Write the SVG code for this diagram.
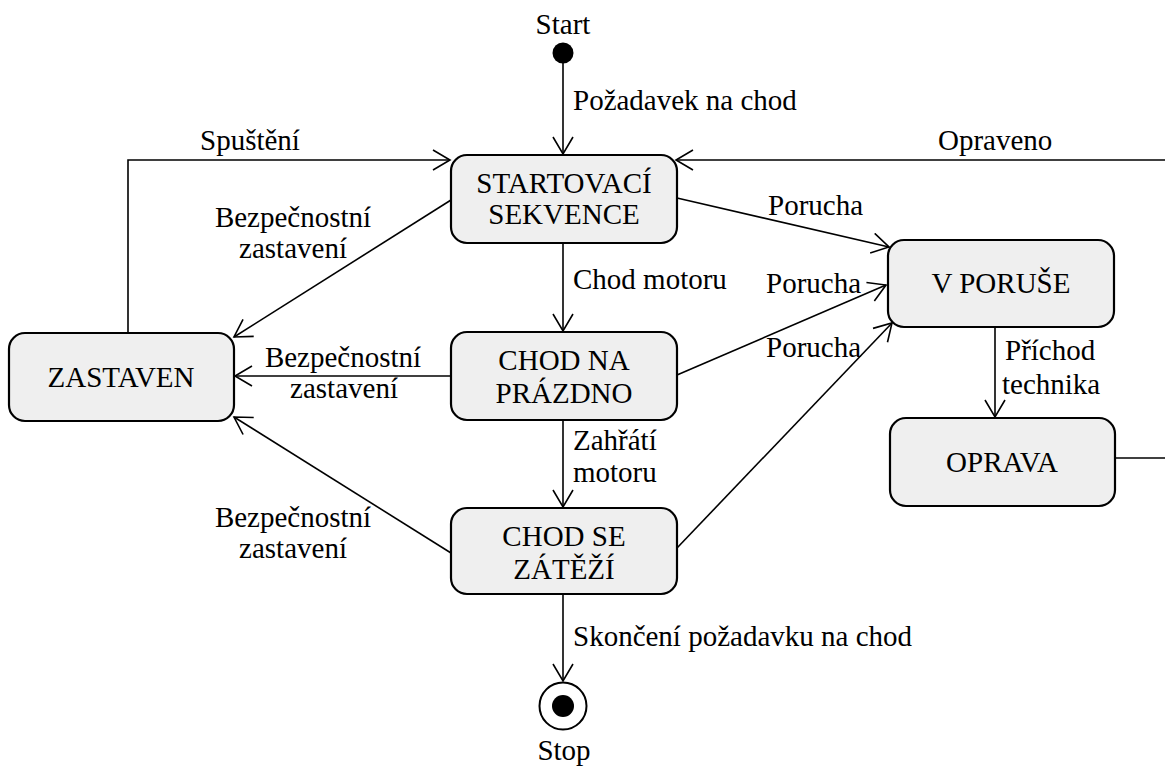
<svg xmlns="http://www.w3.org/2000/svg" width="1165" height="766" viewBox="0 0 1165 766" font-family="Liberation Serif, DejaVu Serif, serif" font-size="29">
  <style>
    .state { fill: #efefef; stroke: #000; stroke-width: 2.2; }
    .edge { fill: none; stroke: #000; stroke-width: 1.6; }
    text { fill: #000; }
    .c { text-anchor: middle; }
  </style>
  <defs>
    <marker id="arrow" markerUnits="userSpaceOnUse" markerWidth="22" markerHeight="24" refX="18" refY="11" orient="auto" viewBox="0 0 22 24">
      <path d="M1,1 L18,11 L1,21" fill="none" stroke="#000" stroke-width="1.6"/>
    </marker>
  </defs>

  <!-- transitions -->
  <g id="connectors">
    <line class="edge" x1="563" y1="60" x2="563" y2="154" marker-end="url(#arrow)"/>
    <polyline class="edge" points="128,333 128,160 450,160" marker-end="url(#arrow)"/>
    <line class="edge" x1="1165" y1="160" x2="676" y2="160" marker-end="url(#arrow)"/>
    <line class="edge" x1="563" y1="243" x2="563" y2="331" marker-end="url(#arrow)"/>
    <line class="edge" x1="563" y1="420" x2="563" y2="507" marker-end="url(#arrow)"/>
    <line class="edge" x1="563" y1="594" x2="563" y2="681" marker-end="url(#arrow)"/>
    <line class="edge" x1="451" y1="200" x2="234" y2="337" marker-end="url(#arrow)"/>
    <line class="edge" x1="451" y1="376" x2="235" y2="376" marker-end="url(#arrow)"/>
    <line class="edge" x1="451" y1="553" x2="234" y2="417" marker-end="url(#arrow)"/>
    <line class="edge" x1="677" y1="198" x2="889" y2="247" marker-end="url(#arrow)"/>
    <line class="edge" x1="677" y1="375" x2="886" y2="285" marker-end="url(#arrow)"/>
    <line class="edge" x1="677" y1="548" x2="892" y2="323" marker-end="url(#arrow)"/>
    <line class="edge" x1="995" y1="327" x2="995" y2="417" marker-end="url(#arrow)"/>
    <line class="edge" x1="1115" y1="458" x2="1165" y2="458"/>
  </g>

  <!-- transition labels -->
  <g id="labels">
    <text x="573" y="110">Požadavek na chod</text>
    <text x="200" y="150">Spuštění</text>
    <text x="938" y="150">Opraveno</text>
    <text class="c" x="293" y="227">Bezpečnostní</text>
    <text class="c" x="293" y="258">zastavení</text>
    <text class="c" x="343" y="367">Bezpečnostní</text>
    <text class="c" x="344" y="398">zastavení</text>
    <text class="c" x="293" y="527">Bezpečnostní</text>
    <text class="c" x="293" y="558">zastavení</text>
    <text x="768" y="215">Porucha</text>
    <text x="766" y="293">Porucha</text>
    <text x="766" y="357">Porucha</text>
    <text x="573" y="289">Chod motoru</text>
    <text x="573" y="450">Zahřátí</text>
    <text x="573" y="482">motoru</text>
    <text x="573" y="646">Skončení požadavku na chod</text>
    <text x="1005" y="360">Příchod</text>
    <text x="1002" y="394">technika</text>
  </g>

  <!-- pseudo states -->
  <g id="start">
    <text class="c" x="563" y="34">Start</text>
    <circle cx="563" cy="53" r="10.5" fill="#000"/>
  </g>
  <g id="stop">
    <circle cx="563" cy="706" r="23.5" fill="#fff" stroke="#000" stroke-width="2"/>
    <circle cx="563" cy="706" r="11" fill="#000"/>
    <text class="c" x="564" y="760">Stop</text>
  </g>

  <!-- states -->
  <g id="startovaci-sekvence">
    <rect class="state" x="451" y="155" width="226" height="88" rx="16"/>
    <text class="c" x="564" y="193">STARTOVACÍ</text>
    <text class="c" x="564" y="224">SEKVENCE</text>
  </g>
  <g id="zastaven">
    <rect class="state" x="9" y="333" width="225" height="88" rx="16"/>
    <text class="c" x="121" y="387">ZASTAVEN</text>
  </g>
  <g id="chod-na-prazdno">
    <rect class="state" x="451" y="332" width="226" height="88" rx="16"/>
    <text class="c" x="564" y="370">CHOD NA</text>
    <text class="c" x="564" y="403">PRÁZDNO</text>
  </g>
  <g id="chod-se-zatezi">
    <rect class="state" x="451" y="508" width="226" height="86" rx="16"/>
    <text class="c" x="564" y="546">CHOD SE</text>
    <text class="c" x="564" y="579">ZÁTĚŽÍ</text>
  </g>
  <g id="v-poruse">
    <rect class="state" x="888" y="240" width="226" height="87" rx="16"/>
    <text class="c" x="1001" y="293">V PORUŠE</text>
  </g>
  <g id="oprava">
    <rect class="state" x="890" y="418" width="225" height="88" rx="16"/>
    <text class="c" x="1002" y="472">OPRAVA</text>
  </g>
</svg>
